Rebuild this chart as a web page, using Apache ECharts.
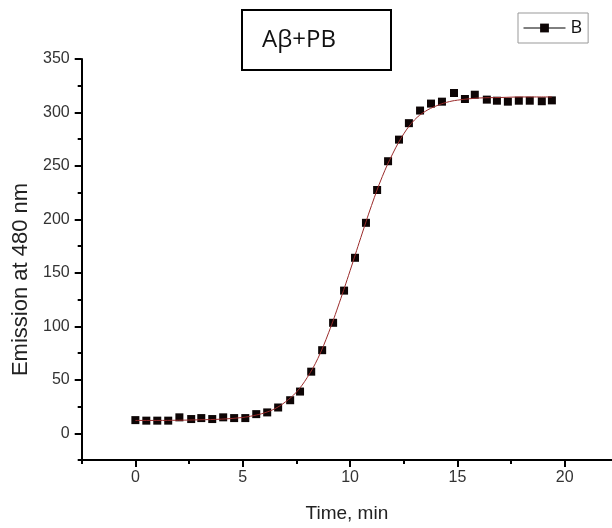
<!DOCTYPE html>
<html>
<head>
<meta charset="utf-8">
<script src="https://cdn.jsdelivr.net/npm/echarts@6/dist/echarts.min.js"></script>
<style>
  html, body { margin: 0; padding: 0; background: #fff; }
  #chart { width: 612px; height: 528px; }
</style>
</head>
<body>
<div id="chart"></div>
<script>
// measured points (time in min, emission)
const timeB = [0, 0.51, 1.02, 1.53, 2.05, 2.6, 3.07, 3.58, 4.09, 4.6, 5.12, 5.63, 6.14, 6.65,
  7.21, 7.67, 8.19, 8.7, 9.21, 9.72, 10.23, 10.74, 11.26, 11.77, 12.28, 12.74, 13.26, 13.77,
  14.28, 14.84, 15.35, 15.81, 16.37, 16.84, 17.35, 17.86, 18.37, 18.93, 19.4]
const emissionB = [12.3, 11.8, 11.8, 11.8, 14.9, 13.3, 14.2, 13.3, 14.9, 14.2, 14.2, 17.9, 19.5, 24.1,
  30.9, 39, 57.6, 77.7, 103.3, 133.4, 164.1, 196.8, 227.5, 254.4, 274.6, 290, 301.8, 308.3,
  310.1, 318.2, 312.6, 316.6, 312, 311, 310.1, 311, 311, 310.5, 311.3]

// red fitted curve
const fitTime = [0, 1, 2, 3, 4, 5, 5.5, 6, 6.5, 7, 7.5, 8, 8.5, 9, 9.5, 10, 10.5, 11, 11.5, 12,
  12.5, 13, 13.5, 14, 14.5, 15, 16, 17, 18, 19.4]
const fitEmission = [12, 12, 12.2, 12.6, 13.2, 14.8, 16.5, 19, 23, 29.5, 38.5, 52, 70, 94, 122, 152,
  183, 213, 240, 262, 280, 293, 301, 306, 309.5, 311.5, 313.5, 314, 314.5, 314.5]

const xTicks = [0, 5, 10, 15, 20]
const xMinorTicks = [-2.5, 2.5, 7.5, 12.5, 17.5]
const yTicks = [0, 50, 100, 150, 200, 250, 300, 350]
const yMinorTicks = [-25, 25, 75, 125, 175, 225, 275, 325]

const chart = echarts.init(document.getElementById('chart'))

const axisFont = 'Liberation Sans, Arial, sans-serif'
const xRange = { min: -2.5, max: 22.2 }
const yRange = { min: -25, max: 350 }

const option = {
  animation: false,
  title: {
    text: 'Aβ+PB',
    left: 242,
    top: 10,
    padding: [16, 55, 16, 20],
    borderColor: '#000',
    borderWidth: 2,
    textStyle: {
      fontFamily: 'Open Sans, sans-serif',
      fontSize: 24,
      fontWeight: 'normal',
      color: '#111',
      lineHeight: 28,
    },
  },
  legend: {
    data: ['B'],
    left: 518,
    top: 13,
    padding: [6, 6, 6, 5],
    borderColor: '#999',
    borderWidth: 1,
    itemWidth: 42,
    itemHeight: 11,
    lineStyle: { color: '#000', width: 1, opacity: 1 },
    textStyle: { fontFamily: 'Open Sans, sans-serif', fontSize: 18, color: '#111' },
  },
  grid: { left: 81.7, top: 59, right: 0, bottom: 65 },
  xAxis: [
    {
      type: 'value',
      ...xRange,
      name: 'Time, min',
      nameLocation: 'middle',
      nameGap: 44,
      nameTextStyle: { fontFamily: axisFont, fontSize: 19, color: '#222' },
      splitLine: { show: false },
      axisLine: { onZero: false, lineStyle: { color: '#000', width: 2 } },
      axisTick: { customValues: xTicks, length: 7, lineStyle: { color: '#000', width: 2 } },
      axisLabel: {
        customValues: xTicks,
        margin: 10,
        fontFamily: axisFont,
        fontSize: 16,
        color: '#333',
      },
    },
    {
      type: 'value',
      ...xRange,
      position: 'bottom',
      splitLine: { show: false },
      axisLine: { show: false, onZero: false },
      axisLabel: { show: false },
      axisTick: { customValues: xMinorTicks, length: 4, lineStyle: { color: '#000', width: 2 } },
    },
  ],
  yAxis: [
    {
      type: 'value',
      ...yRange,
      name: 'Emission at 480 nm',
      nameLocation: 'middle',
      nameGap: 50,
      nameTextStyle: {
        fontFamily: axisFont,
        fontSize: 22,
        color: '#222',
        padding: [0, 40, 0, 0],
      },
      splitLine: { show: false },
      axisLine: { show: true, onZero: false, lineStyle: { color: '#000', width: 2 } },
      axisTick: { customValues: yTicks, length: 7, lineStyle: { color: '#000', width: 2 } },
      axisLabel: {
        customValues: yTicks,
        margin: 12,
        fontFamily: axisFont,
        fontSize: 16,
        color: '#333',
      },
    },
    {
      type: 'value',
      ...yRange,
      position: 'left',
      splitLine: { show: false },
      axisLine: { show: false, onZero: false },
      axisLabel: { show: false },
      axisTick: { customValues: yMinorTicks, length: 4, lineStyle: { color: '#000', width: 2 } },
    },
  ],
  series: [
    {
      name: 'B',
      type: 'line',
      data: timeB.map((t, i) => [t, emissionB[i]]),
      symbol: 'rect',
      symbolSize: 8,
      itemStyle: { color: '#0d0505' },
      lineStyle: { color: '#000', width: 1, opacity: 0 },
      z: 2,
    },
    {
      name: 'fit',
      type: 'line',
      data: fitTime.map((t, i) => [t, fitEmission[i]]),
      smooth: 0.4,
      showSymbol: false,
      lineStyle: { color: '#9a2a2a', width: 1 },
      z: 3,
    },
  ],
}

chart.setOption(option)
</script>
</body>
</html>
